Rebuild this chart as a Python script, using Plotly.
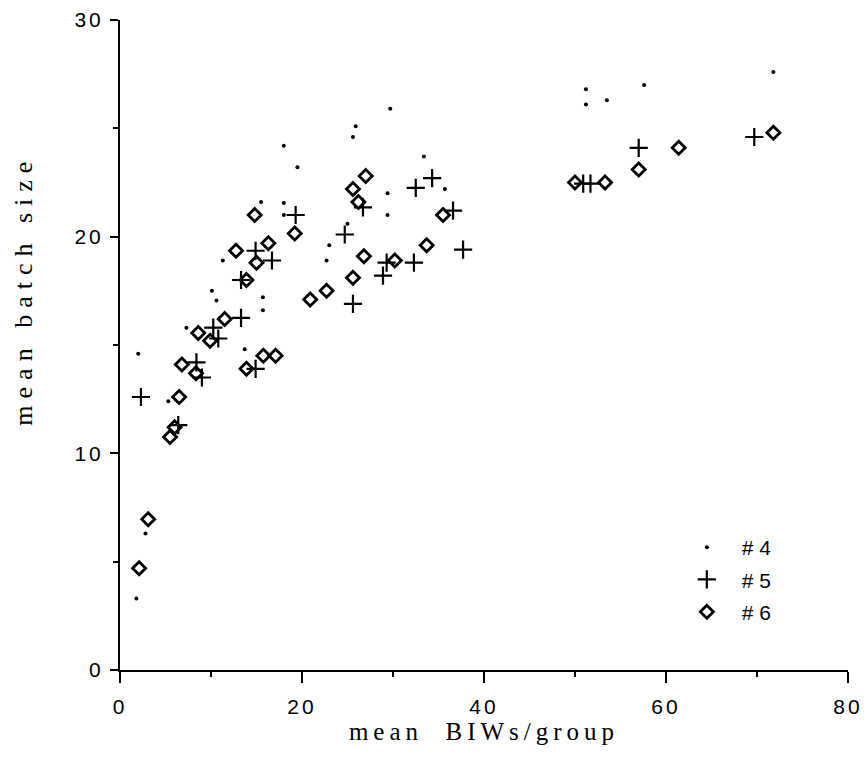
import plotly.graph_objects as go

# ---- data ----
x4 = [1.8, 2.8, 2.0, 5.3, 7.3, 10.1, 10.6, 11.3, 13.7, 15.5, 15.7, 15.7, 18.0, 18.0, 18.0,
      19.5, 22.7, 23.0, 25.0, 25.6, 25.9, 29.4, 29.4, 29.7, 33.4, 35.7, 51.2, 51.2, 53.5,
      57.6, 71.8]
y4 = [3.3, 6.3, 14.6, 12.4, 15.8, 17.5, 17.05, 18.9, 14.8, 21.6, 17.2, 16.6, 24.2, 21.55, 21.0,
      23.2, 18.9, 19.6, 20.6, 24.6, 25.1, 22.0, 21.0, 25.9, 23.7, 22.2, 26.8, 26.1, 26.3,
      27.0, 27.6]

x5 = [2.3, 6.4, 8.4, 9.0, 10.25, 10.8, 13.3, 13.3, 14.9, 14.9, 16.7, 19.3, 24.7, 25.6,
      26.7, 28.9, 29.3, 32.3, 32.5, 34.3, 36.6, 37.7, 50.9, 51.7, 57.0, 69.7]
y5 = [12.6, 11.3, 14.2, 13.5, 15.8, 15.3, 16.25, 18.0, 13.9, 19.35, 18.9, 21.0, 20.1, 16.9,
      21.35, 18.2, 18.8, 18.8, 22.25, 22.7, 21.2, 19.4, 22.45, 22.45, 24.1, 24.6]

x6 = [2.1, 3.1, 5.5, 6.0, 6.5, 6.8, 8.35, 8.6, 9.9, 11.5, 12.75, 13.9, 13.9, 14.8, 15.0,
      15.75, 16.3, 17.1, 19.2, 20.9, 22.7, 25.6, 25.6, 26.2, 26.8, 27.0, 30.2, 33.7, 35.5,
      50.0, 53.3, 57.0, 61.4, 71.8]
y6 = [4.7, 6.96, 10.75, 11.2, 12.6, 14.1, 13.7, 15.55, 15.2, 16.2, 19.35, 18.0, 13.9, 21.0,
      18.8, 14.5, 19.7, 14.5, 20.15, 17.1, 17.5, 18.1, 22.2, 21.6, 19.1, 22.8, 18.9, 19.6,
      21.0, 22.5, 22.5, 23.1, 24.1, 24.8]

series_names = ["# 4", "# 5", "# 6"]
x_ticks = [0, 20, 40, 60, 80]
y_ticks = [0, 10, 20, 30]
x_title = "mean  BIWs/group"
y_title = "mean batch size"


def spaced(s, px):
    return '<span style="letter-spacing:%dpx">%s</span>' % (px, s)


# ---- figure ----
fig = go.Figure()
fig.add_trace(go.Scatter(x=x4, y=y4, mode="markers", name=series_names[0], legendgroup="a",
                         marker=dict(symbol="circle", size=4, color="black")))
fig.add_trace(go.Scatter(x=x5, y=y5, mode="markers", name=series_names[1], legendgroup="b",
                         marker=dict(symbol="cross-thin-open", size=13,
                                     line=dict(width=2.2, color="black"), color="black")))
fig.add_trace(go.Scatter(x=x6, y=y6, mode="markers", name=series_names[2], legendgroup="c",
                         marker=dict(symbol="diamond-open", size=10,
                                     line=dict(width=2.8, color="black"), color="black")))

tickfont = dict(family="Liberation Sans, Arial, sans-serif", size=21, color="black")
serif = "Liberation Serif, Times New Roman, serif"

fig.update_layout(
    width=864, height=762,
    margin=dict(l=120, r=16, t=20, b=92, autoexpand=False),
    paper_bgcolor="white", plot_bgcolor="white",
    showlegend=True,
    legend=dict(x=0.758, y=0.22, xanchor="left", yanchor="top",
                font=dict(family="Liberation Sans, Arial, sans-serif", size=21, color="black"),
                itemwidth=60, tracegroupgap=2, bgcolor="rgba(0,0,0,0)"),
    xaxis=dict(range=[0, 80], tickvals=x_ticks, ticktext=[spaced(str(v), 3) for v in x_ticks],
               automargin=False,
               showline=True, linecolor="black", linewidth=2, showgrid=False, zeroline=False,
               ticks="outside", ticklen=11, tickwidth=2, tickcolor="black",
               ticklabelstandoff=6, tickfont=tickfont,
               minor=dict(dtick=10, ticks="outside", ticklen=5, tickwidth=1.5,
                          tickcolor="black", showgrid=False),
               title=dict(text=spaced(x_title, 5),
                          font=dict(family=serif, size=25, color="black"), standoff=4)),
    yaxis=dict(range=[0, 30], tickvals=y_ticks, ticktext=[spaced(str(v), 3) for v in y_ticks],
               automargin=False,
               showline=True, linecolor="black", linewidth=2, showgrid=False, zeroline=False,
               ticks="outside", ticklen=8, tickwidth=2, tickcolor="black",
               ticklabelstandoff=2, tickfont=tickfont,
               minor=dict(dtick=5, ticks="outside", ticklen=5, tickwidth=1.5,
                          tickcolor="black", showgrid=False)),
    annotations=[dict(text=spaced(y_title, 7),
                      textangle=-90, xref="paper", yref="paper",
                      x=-0.132, y=0.585, xanchor="center", yanchor="middle",
                      showarrow=False, font=dict(family=serif, size=26, color="black"))],
)

fig.write_html("out.html")
